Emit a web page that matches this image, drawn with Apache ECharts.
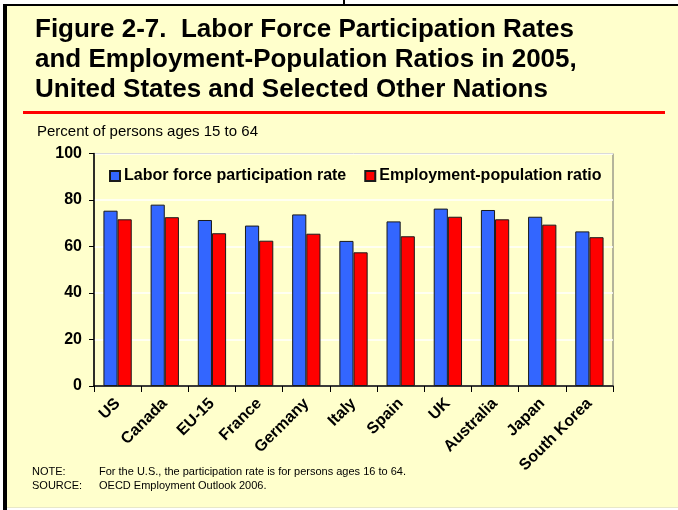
<!DOCTYPE html>
<html>
<head>
<meta charset="utf-8">
<title>Figure 2-7</title>
<script src="https://cdn.jsdelivr.net/npm/echarts@6/dist/echarts.min.js"></script>
<style>
html, body { margin:0; padding:0; background:#fff; }
#main { width:678px; height:510px; }
</style>
</head>
<body>
<div id="main"></div>
<script>
// countries, values (percent)
var countries = ['US', 'Canada', 'EU-15', 'France', 'Germany', 'Italy', 'Spain', 'UK', 'Australia', 'Japan', 'South Korea'];
var participation = [75.4, 78.0, 71.4, 69.0, 73.8, 62.4, 70.8, 76.3, 75.7, 72.8, 66.5];
var employment = [71.7, 72.6, 65.7, 62.5, 65.5, 57.5, 64.4, 72.8, 71.7, 69.4, 64.0];
var yTicks = [0, 20, 40, 60, 80, 100];

var myChart = echarts.init(document.getElementById('main'));

var option = {
	backgroundColor: '#fff',
	animation: false,
	textStyle: { fontFamily: 'Liberation Sans, Arial, sans-serif' },
	graphic: [
		// yellow panel with black frame
		{ type: 'rect', shape: { x: 6, y: 5, width: 672, height: 503 }, style: { fill: '#ffffcc' }, z: -10 },
		{ type: 'rect', shape: { x: 3, y: 4, width: 4, height: 506 }, style: { fill: '#000' }, z: -5 },
		{ type: 'rect', shape: { x: 3, y: 4, width: 675, height: 2 }, style: { fill: '#000' }, z: -5 },
		{ type: 'rect', shape: { x: 343, y: 0, width: 2, height: 5 }, style: { fill: '#000' }, z: -5 },
		{ type: 'rect', shape: { x: 7, y: 507, width: 671, height: 1 }, style: { fill: '#e8e8c8' }, z: -5 },
		// red rule under the title
		{ type: 'rect', shape: { x: 23, y: 111, width: 642, height: 3 }, style: { fill: '#ff0000' } },
		{
			type: 'text', left: 37, top: 124,
			style: { text: 'Percent of persons ages 15 to 64', font: '15px "Liberation Sans", Arial', fill: '#000' }
		},
		{
			type: 'text', left: 32, top: 465,
			style: { text: 'NOTE:\nSOURCE:', font: '11px "Liberation Sans", Arial', lineHeight: 14, fill: '#000' }
		},
		{
			type: 'text', left: 99, top: 465,
			style: { text: 'For the U.S., the participation rate is for persons ages 16 to 64.\nOECD Employment Outlook 2006.', font: '11px "Liberation Sans", Arial', lineHeight: 14, fill: '#000' }
		}
	],
	title: {
		text: 'Figure 2-7.  Labor Force Participation Rates\nand Employment-Population Ratios in 2005,\nUnited States and Selected Other Nations',
		left: 30, top: 10,
		textStyle: { fontSize: 26, fontWeight: 'bold', color: '#000', lineHeight: 30, fontFamily: 'Liberation Sans, Arial' }
	},
	legend: {
		left: 104, top: 163,
		itemWidth: 10, itemHeight: 10, itemGap: 18,
		icon: 'rect',
		textStyle: { fontSize: 16, fontWeight: 'bold', color: '#000', padding: [0, 0, 0, -1] },
		data: ['Labor force participation rate', 'Employment-population ratio']
	},
	grid: {
		left: 94, right: 65, top: 153.5, bottom: 124,
		show: true, borderColor: '#6b6b6b', borderWidth: 1, backgroundColor: 'transparent'
	},
	xAxis: {
		type: 'category',
		data: countries,
		axisLine: { lineStyle: { color: '#000', width: 1.5 } },
		axisTick: { show: true, length: 6, lineStyle: { color: '#000' } },
		axisLabel: { rotate: 45, margin: 15, fontSize: 16, fontWeight: 'bold', color: '#000', interval: 0 }
	},
	yAxis: {
		type: 'value',
		min: yTicks[0], max: yTicks[yTicks.length - 1], interval: yTicks[1] - yTicks[0],
		axisLine: { show: true, lineStyle: { color: '#000', width: 1.5 } },
		axisTick: { show: true, length: 5, lineStyle: { color: '#000' } },
		axisLabel: { fontSize: 16, fontWeight: 'bold', color: '#000', margin: 12 },
		splitLine: { show: true, lineStyle: { color: '#ffffff', width: 1.5 } }
	},
	series: [
		{
			name: 'Labor force participation rate',
			type: 'bar',
			data: participation,
			barGap: '0%',
			barCategoryGap: '40%',
			itemStyle: { color: '#3366ff', borderColor: '#1a1a1a', borderWidth: 1 }
		},
		{
			name: 'Employment-population ratio',
			type: 'bar',
			data: employment,
			barGap: '0%',
			barCategoryGap: '40%',
			itemStyle: { color: '#ff0000', borderColor: '#1a1a1a', borderWidth: 1 }
		}
	]
};

myChart.setOption(option);
</script>
</body>
</html>
